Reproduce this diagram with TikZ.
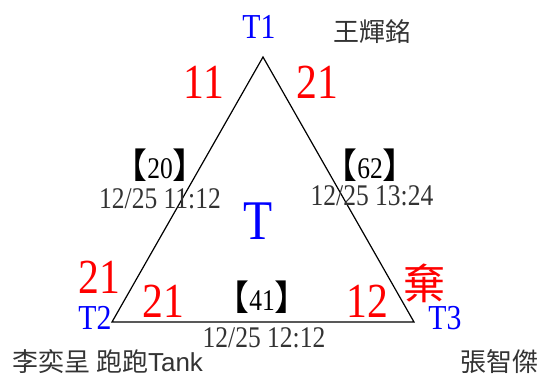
\documentclass[tikz,border=0pt]{standalone}
\usepackage{fontspec}
\setmainfont[FakeStretch=0.85]{Liberation Serif}
\newfontfamily\cjkfont{Noto Sans CJK TC}
\newfontfamily\arialfont{Liberation Sans}
\definecolor{tgblue}{RGB}{0,0,255}
\definecolor{tgred}{RGB}{255,0,0}
\definecolor{tggray}{RGB}{51,51,51}
\newcommand{\tgsize}[1]{\fontsize{#1}{#1}\selectfont}
\newcommand{\tgtag}[1]{{\cjkfont\tgsize{35}【}#1{\cjkfont\tgsize{35}】}}

\begin{document}
\begin{tikzpicture}[x=1pt, y=-1pt,
    vertex/.style={tgblue, font=\tgsize{35}, anchor=base, inner sep=0pt},
    score/.style={tgred, font=\tgsize{49}, anchor=base, inner sep=0pt},
    stamp/.style={tggray, font=\tgsize{30}, anchor=base, inner sep=0pt},
    tag/.style={black, font=\tgsize{30}, anchor=base, inner sep=0pt},
    player/.style={tggray, font=\tgsize{26}\cjkfont, inner sep=0pt}]
  \useasboundingbox (0,0) rectangle (540,376);
  % Triangle
  \coordinate (t1) at (263,57);
  \coordinate (t2) at (112,322);
  \coordinate (t3) at (414,322);
  \draw[line width=1.2pt, line join=miter] (t1) -- (t2) -- (t3) -- cycle;
  % Vertex labels
  \node[vertex] (v1) at (259,38) {T1};
  \node[vertex] (v2) at (95,329) {T2};
  \node[vertex] (v3) at (445,329) {T3};
  \node[tgblue, font=\tgsize{56}, anchor=base, inner sep=0pt] (mid) at (258,239) {T};
  % Scores
  \node[score] (s1a) at (204,98) {11};
  \node[score] (s1b) at (317,98) {21};
  \node[score] (s2a) at (99,293) {21};
  \node[score] (s2b) at (163,317) {21};
  \node[score] (s3a) at (367,317) {12};
  \node[tgred, font=\tgsize{42}\cjkfont, inner sep=0pt] (quit) at (424,283) {棄};
  % Game tags and times
  \node[tag] (g12) at (160,178) {\tgtag{20}};
  \node[stamp] (d12) at (160,208) {12/25 11:12};
  \node[tag] (g13) at (370,178) {\tgtag{62}};
  \node[stamp] (d13) at (372,205) {12/25 13:24};
  \node[tag] (g23) at (262,310) {\tgtag{41}};
  \node[stamp] (d23) at (264,347) {12/25 12:12};
  % Players
  \node[player] (p1) at (372,32) {王輝銘};
  \node[player, anchor=west] (p2) at (12,362) {李奕呈 跑跑{\arialfont Tank}};
  \node[player] (p3) at (499,362) {張智傑};
\end{tikzpicture}
\end{document}
